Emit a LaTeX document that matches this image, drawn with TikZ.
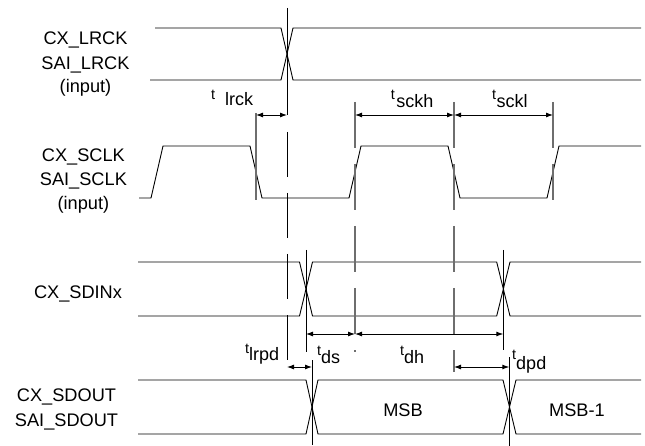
\documentclass[tikz,border=0pt]{standalone}
\usepackage{fontspec}
\setmainfont{Liberation Sans}
\usetikzlibrary{arrows.meta}
\definecolor{markgray}{RGB}{110,110,110}
\newcommand{\tsub}[3]{{\fontsize{14.5}{14.5}\selectfont t}\hspace{#1}\raisebox{-#2}{\fontsize{18}{18}\selectfont #3}}
\tikzset{
  wave/.style={line width=0.9pt, black, line join=miter},
  gridline/.style={line width=1.1pt, markgray},
  blackline/.style={line width=0.9pt, black},
  longdash/.style={dash pattern=on 46pt off 16pt},
  dim/.style={line width=0.9pt, {Latex[length=7pt,width=5pt]}-{Latex[length=7pt,width=5pt]}},
  sig/.style={font=\fontsize{18.2}{22}\selectfont, inner sep=0pt, anchor=base},
  tlab/.style={inner sep=0pt, anchor=base west},
}
\begin{document}
\begin{tikzpicture}[x=1pt,y=-1pt]
\useasboundingbox (0,0) rectangle (645,446);
% signal names
\node[sig] (l1) at (85.5,45) {CX\_LRCK};
\node[sig] (l2) at (85.5,69.5) {SAI\_LRCK};
\node[sig] (l3) at (85.5,93) {(input)};
\node[sig] (s1) at (83.4,161.7) {CX\_SCLK};
\node[sig] (s2) at (83.4,186) {SAI\_SCLK};
\node[sig] (s3) at (83.4,209.5) {(input)};
\node[sig] (d1) at (78,298.3) {CX\_SDINx};
\node[sig] (o1) at (66.5,401.7) {CX\_SDOUT};
\node[sig] (o2) at (66.5,426.7) {SAI\_SDOUT};
\node[sig] (msb) at (403,416.7) {MSB};
\node[sig] (msb1) at (577,416.7) {MSB-1};
% LRCK
\draw[wave] (155,28) -- (281,28) -- (293,80) -- (641,80);
\draw[wave] (150,80) -- (281,80) -- (293,28) -- (641,28);
% SCLK
\draw[wave] (139,198) -- (151,198) -- (163,146) -- (250,146) -- (262,198) -- (349,198) -- (361,146) -- (448,146) -- (460,198) -- (547,198) -- (559,146) -- (641,146);
% SDINx
\draw[wave] (138,262) -- (299.5,262) -- (312.5,316) -- (496.7,316) -- (510,262) -- (641,262);
\draw[wave] (138,316) -- (299.5,316) -- (312.5,262) -- (496.7,262) -- (510,316) -- (641,316);
% SDOUT
\draw[wave] (138,380) -- (306,380) -- (318,434) -- (503,434) -- (516,380) -- (641,380);
\draw[wave] (138,434) -- (306,434) -- (318,380) -- (503,380) -- (516,434) -- (641,434);
% reference lines
\draw[blackline] (287,8) -- (287,115);
\draw[blackline, dash pattern=on 45pt off 16pt] (287,132) -- (287,360);
\draw[blackline] (306,250) -- (306,352);
\draw[blackline] (503.3,250) -- (503.3,350);
\draw[blackline] (312,360) -- (312,445);
\draw[blackline] (509.3,357) -- (509.3,446);
\draw[gridline] (256,113) -- (256,200);
\draw[gridline, longdash] (355,102) -- (355,352);
\draw[gridline, longdash] (454,102) -- (454,372);
\draw[gridline, longdash] (553,102) -- (553,200);
% dimension points
\coordinate (alrck) at (256,115);
\coordinate (blrck) at (287,115);
\coordinate (asckh) at (355,115);
\coordinate (bsckh) at (454,115);
\coordinate (bsckl) at (553,115);
\coordinate (ads) at (306,334);
\coordinate (bds) at (355,334);
\coordinate (bdh) at (503.3,334);
\coordinate (alrpd) at (287,367);
\coordinate (blrpd) at (312,367);
\coordinate (adpd) at (454,367);
\coordinate (bdpd) at (509.3,367);
\draw[dim] (alrck) -- (blrck);
\draw[dim] (asckh) -- (bsckh);
\draw[dim] (bsckh) -- (bsckl);
\draw[dim] (ads) -- (bds);
\draw[dim] (bds) -- (bdh);
\draw[dim] (alrpd) -- (blrpd);
\draw[dim] (adpd) -- (bdpd);
% timing labels
\node[tlab] (tlrck) at (211,100) {\tsub{10pt}{6pt}{lrck}};
\node[tlab] (tsckh) at (390.7,100) {\tsub{1.5pt}{8pt}{sckh}};
\node[tlab] (tsckl) at (492,99.3) {\tsub{0.5pt}{8.7pt}{sckl}};
\node[tlab] (tlrpd) at (245,353.3) {\tsub{0pt}{6.7pt}{lrpd}};
\node[tlab] (tds) at (317,355) {\tsub{0pt}{8pt}{ds}};
\node[tlab] (tdh) at (400,355) {\tsub{0pt}{8pt}{dh}};
\node[tlab] (tdpd) at (512,359) {\tsub{0pt}{10pt}{dpd}};
\end{tikzpicture}
\end{document}
